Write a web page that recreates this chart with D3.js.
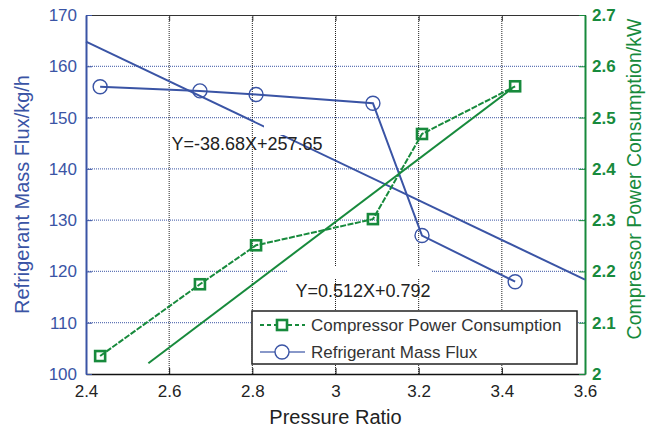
<!DOCTYPE html>
<html><head><meta charset="utf-8">
<script src="https://cdn.jsdelivr.net/npm/d3@7/dist/d3.min.js"></script>
<style>body{margin:0;background:#fff}svg{display:block;font-family:"Liberation Sans",Arial,sans-serif}</style>
</head><body><svg id="c" width="646" height="430"></svg>
<script>
const pressureRatio = [2.434, 2.674, 2.809, 3.09, 3.208, 3.432];
const massFlux = [156.0, 155.2, 154.5, 152.8, 127.0, 118.0];
const powerKW = [2.035, 2.175, 2.251, 2.302, 2.468, 2.561];
const massFitX = [2.4, 3.6];
const massFitY = [164.81, 118.4];
const powerFitX = [2.55, 3.425];
const powerFitY = [2.021, 2.557];
const xTicks = [2.4, 2.6, 2.8, 3, 3.2, 3.4, 3.6];
const leftTicks = [100, 110, 120, 130, 140, 150, 160, 170];
const rightTicks = [2, 2.1, 2.2, 2.3, 2.4, 2.5, 2.6, 2.7];
const labels = {x: "Pressure Ratio", left: "Refrigerant Mass Flux/kg/h", right: "Compressor Power Consumption/kW"};
const eqMass = "Y=-38.68X+257.65", eqPower = "Y=0.512X+0.792";
const legendNames = ["Compressor Power Consumption", "Refrigerant Mass Flux"];

const BLUE = "#3a54a5", GREEN = "#178a3c";
const L = 86, R = 585, T = 15, B = 374;
const svg = d3.select("#c");
const x = d3.scaleLinear().domain([2.4, 3.6]).range([L, R]);
const yL = d3.scaleLinear().domain([100, 170]).range([B, T]);
const yR = d3.scaleLinear().domain([2, 2.7]).range([B, T]);

// grid
svg.append("g").selectAll("line").data(leftTicks.slice(1, -1)).join("line")
  .attr("x1", L).attr("x2", R).attr("y1", d => yL(d)).attr("y2", d => yL(d))
  .attr("stroke", BLUE).attr("stroke-width", 1.2).attr("stroke-dasharray", "1,1").attr("opacity", 0.8);
svg.append("g").selectAll("line").data(xTicks.slice(1, -1)).join("line")
  .attr("y1", T).attr("y2", B).attr("x1", d => x(d)).attr("x2", d => x(d))
  .attr("stroke", "#222").attr("stroke-width", 1).attr("stroke-dasharray", "1,1");

// axes
const gx = svg.append("g").attr("transform", `translate(0,${B})`)
  .call(d3.axisBottom(x).tickValues(xTicks).tickFormat(d3.format("")).tickSizeInner(-6).tickSizeOuter(0).tickPadding(11));
gx.select(".domain").attr("stroke", "#111").attr("stroke-width", 1.5);
gx.selectAll("text").attr("font-size", 17).attr("fill", "#222").attr("font-family", "Liberation Sans, Arial, sans-serif");
gx.selectAll(".tick line").attr("stroke", "#111");
const gt = svg.append("g").attr("transform", `translate(0,${T})`)
  .call(d3.axisTop(x).tickValues(xTicks).tickFormat("").tickSizeInner(-6).tickSizeOuter(0));
gt.select(".domain").attr("stroke", "#333").attr("stroke-width", 1.2);
gt.selectAll(".tick line").attr("stroke", "#333");

const gl = svg.append("g").attr("transform", `translate(${L},0)`)
  .call(d3.axisLeft(yL).tickValues(leftTicks).tickSizeInner(-6).tickSizeOuter(0).tickPadding(9));
gl.select(".domain").attr("stroke", BLUE).attr("stroke-width", 2);
gl.selectAll(".tick line").attr("stroke", BLUE);
gl.selectAll("text").attr("font-size", 17).attr("fill", BLUE).attr("font-family", "Liberation Sans, Arial, sans-serif");

const gr = svg.append("g").attr("transform", `translate(${R},0)`)
  .call(d3.axisRight(yR).tickValues(rightTicks).tickFormat(d3.format("")).tickSizeInner(-6).tickSizeOuter(0).tickPadding(7));
gr.select(".domain").attr("stroke", GREEN).attr("stroke-width", 2);
gr.selectAll(".tick line").attr("stroke", GREEN);
gr.selectAll("text").attr("font-size", 17).attr("fill", GREEN).attr("font-weight", "bold").attr("font-family", "Liberation Sans, Arial, sans-serif");

// axis labels
svg.append("text").attr("x", (L + R) / 2).attr("y", 424).attr("text-anchor", "middle")
  .attr("font-size", 20).attr("fill", "#222").text(labels.x);
svg.append("text").attr("transform", `translate(29,${(T + B) / 2}) rotate(-90)`).attr("text-anchor", "middle")
  .attr("font-size", 20).attr("fill", BLUE).text(labels.left);
svg.append("text").attr("transform", `translate(641,179) rotate(-90)`).attr("text-anchor", "middle")
  .attr("font-size", 19.5).attr("fill", GREEN).text(labels.right);

// fit lines
const lineL = d3.line().x(d => x(d[0])).y(d => yL(d[1]));
const lineR = d3.line().x(d => x(d[0])).y(d => yR(d[1]));
svg.append("path").attr("d", lineL(d3.zip(massFitX, massFitY))).attr("fill", "none")
  .attr("stroke", BLUE).attr("stroke-width", 2);
svg.append("path").attr("d", lineR(d3.zip(powerFitX, powerFitY))).attr("fill", "none")
  .attr("stroke", GREEN).attr("stroke-width", 2);

// data lines
svg.append("path").attr("d", lineL(d3.zip(pressureRatio, massFlux))).attr("fill", "none")
  .attr("stroke", BLUE).attr("stroke-width", 2);
svg.append("path").attr("d", lineR(d3.zip(pressureRatio, powerKW))).attr("fill", "none")
  .attr("stroke", GREEN).attr("stroke-width", 2).attr("stroke-dasharray", "6,1.5");

// markers
svg.append("g").selectAll("circle").data(d3.zip(pressureRatio, massFlux)).join("circle")
  .attr("cx", d => x(d[0])).attr("cy", d => yL(d[1])).attr("r", 7)
  .attr("fill", "none").attr("stroke", BLUE).attr("stroke-width", 1.4);
svg.append("g").selectAll("rect").data(d3.zip(pressureRatio, powerKW)).join("rect")
  .attr("x", d => x(d[0]) - 5).attr("y", d => yR(d[1]) - 5).attr("width", 10).attr("height", 10)
  .attr("fill", "none").attr("stroke", GREEN).attr("stroke-width", 2.6);

// equations (small white patches as in the reference)
svg.append("rect").attr("x", 264).attr("y", 121).attr("width", 22).attr("height", 14).attr("fill", "#fff");
svg.append("rect").attr("x", 287).attr("y", 266).attr("width", 145).attr("height", 12).attr("fill", "#fff");
function eq(txt, cx, cy) {
  svg.append("text").attr("x", cx).attr("y", cy).attr("dy", "0.36em").attr("text-anchor", "middle")
    .attr("font-size", 18).attr("fill", "#222").text(txt);
}
eq(eqMass, 247, 144);
eq(eqPower, 363, 291);

// legend
const lg = svg.append("g");
lg.append("rect").attr("x", 252).attr("y", 311).attr("width", 325).attr("height", 53)
  .attr("fill", "#fff").attr("stroke", "#222").attr("stroke-width", 1.5);
lg.append("line").attr("x1", 260).attr("x2", 305).attr("y1", 325).attr("y2", 325)
  .attr("stroke", GREEN).attr("stroke-width", 2).attr("stroke-dasharray", "4,3");
lg.append("rect").attr("x", 277).attr("y", 320).attr("width", 10).attr("height", 10)
  .attr("fill", "#fff").attr("stroke", GREEN).attr("stroke-width", 2.6);
lg.append("line").attr("x1", 260).attr("x2", 275).attr("y1", 352).attr("y2", 352).attr("stroke", BLUE).attr("stroke-width", 1.2);
lg.append("line").attr("x1", 289).attr("x2", 305).attr("y1", 352).attr("y2", 352).attr("stroke", BLUE).attr("stroke-width", 1.2);
lg.append("circle").attr("cx", 282).attr("cy", 352).attr("r", 7)
  .attr("fill", "#fff").attr("stroke", BLUE).attr("stroke-width", 1.4);
lg.selectAll("text.l").data(legendNames).join("text").attr("class", "l")
  .attr("x", 311).attr("y", (d, i) => 325 + i * 27).attr("dy", "0.36em")
  .attr("font-size", 17).attr("fill", "#333").text(d => d);
</script></body></html>
